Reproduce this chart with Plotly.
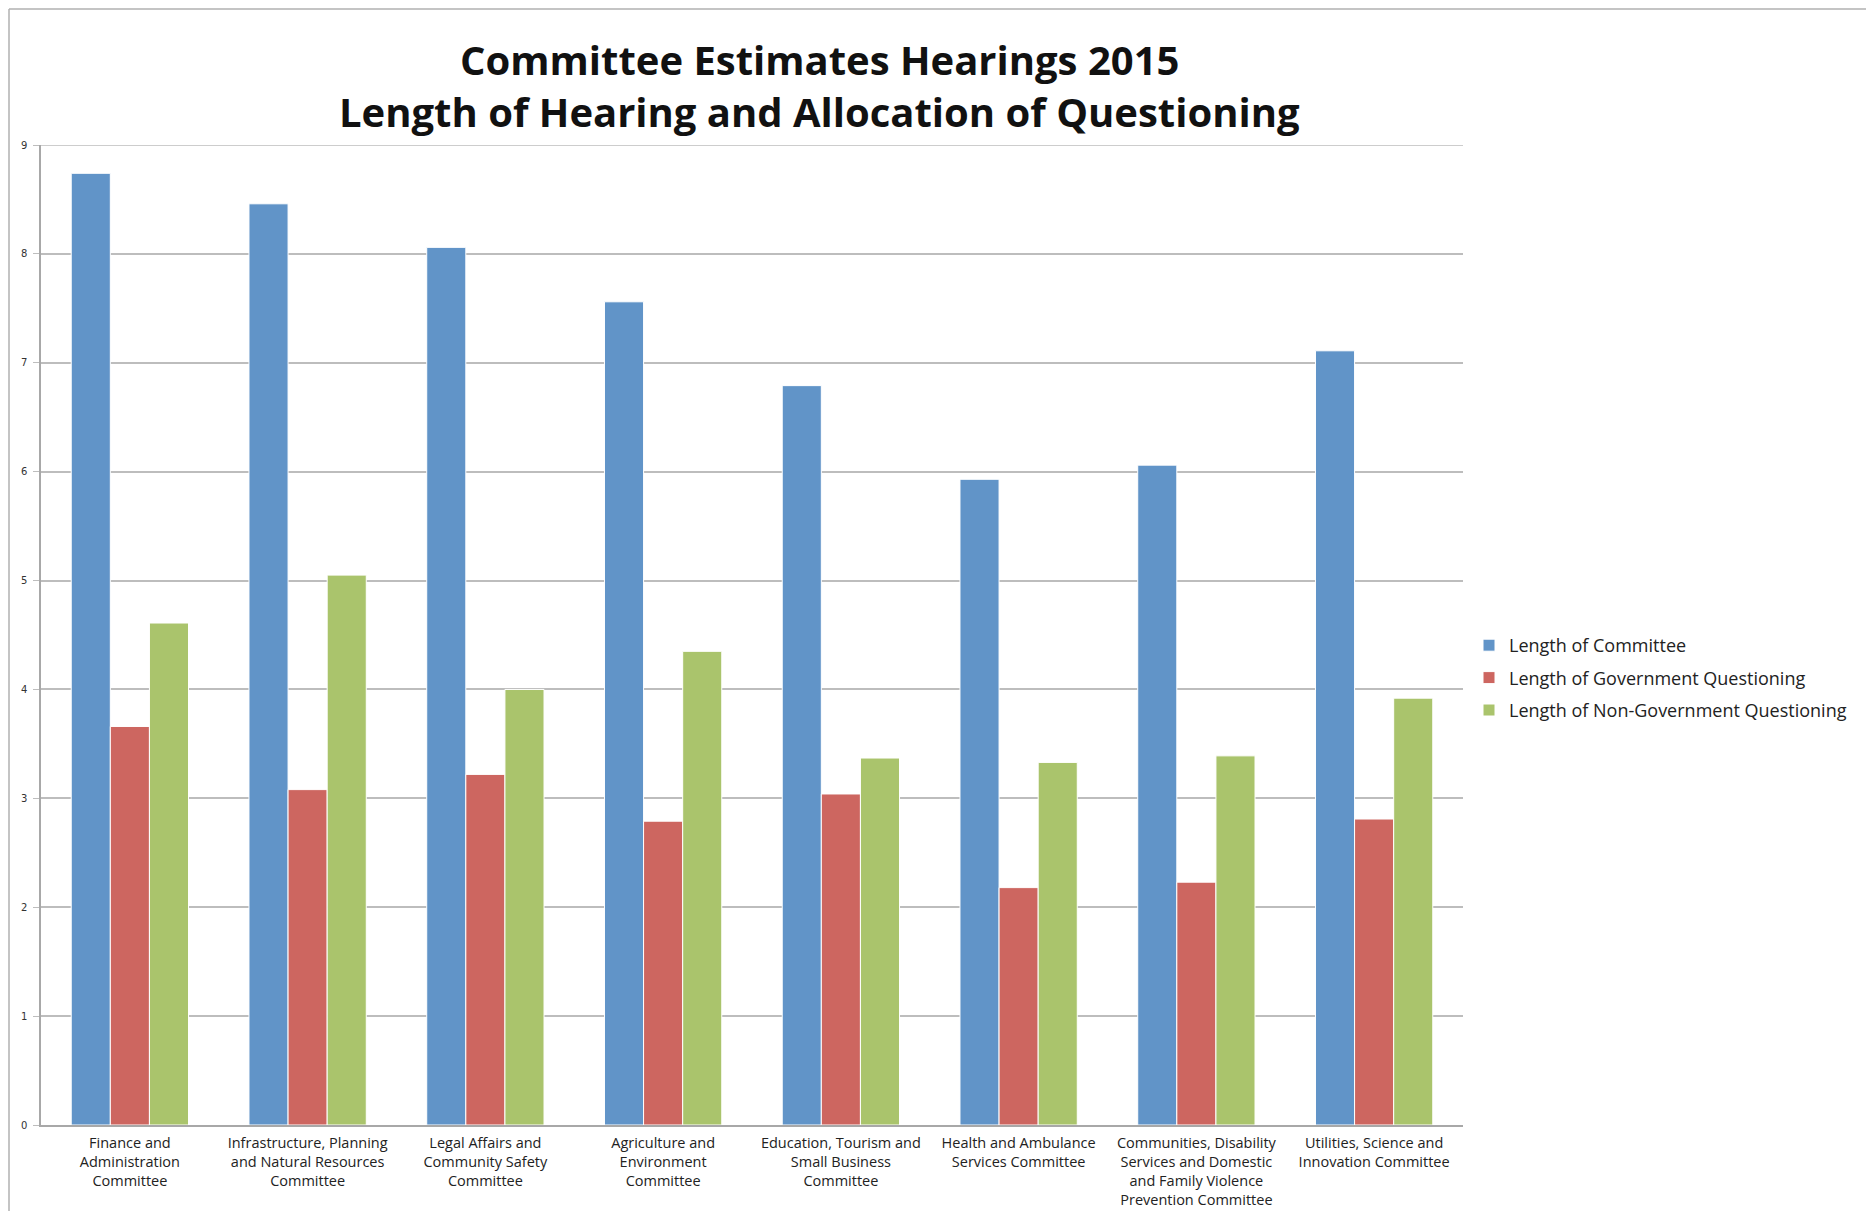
import plotly.graph_objects as go

categories = [
    "Finance and<br>Administration<br>Committee",
    "Infrastructure, Planning<br>and Natural Resources<br>Committee",
    "Legal Affairs and<br>Community Safety<br>Committee",
    "Agriculture and<br>Environment<br>Committee",
    "Education, Tourism and<br>Small Business<br>Committee",
    "Health and Ambulance<br>Services Committee",
    "Communities, Disability<br>Services and Domestic<br>and Family Violence<br>Prevention Committee",
    "Utilities, Science and<br>Innovation Committee",
]
length_committee = [8.74, 8.46, 8.06, 7.56, 6.79, 5.93, 6.06, 7.11]
length_gov = [3.66, 3.08, 3.22, 2.79, 3.04, 2.18, 2.23, 2.81]
length_nongov = [4.61, 5.05, 4.00, 4.35, 3.37, 3.33, 3.39, 3.92]
series_names = ["Length of Committee", "Length of Government Questioning",
                "Length of Non-Government Questioning"]
colors = ["#6194C8", "#CD6660", "#AAC46C"]
y_ticks = list(range(0, 10))

# page has an 8px body margin; the figure sits at (8, 8)
OFF = 8
W, H = 1874 - 2 * OFF, 1219 - 2 * OFF
# plot area in page pixels: x 41..1463, y 145..1125
ML = 41 - OFF
MT = 145 - OFF
MR = W - (1463 - OFF)
MB = H - (1125 - OFF)
pw = W - ML - MR
ph = H - MT - MB

fig = go.Figure()
for i, (name, vals) in enumerate(zip(series_names,
                                     [length_committee, length_gov, length_nongov])):
    fig.add_trace(go.Bar(
        x=categories, y=vals, name=name,
        marker=dict(color=colors[i], line=dict(color="white", width=1)),
        legendgroup=f"g{i}",
    ))

def px_x(p):
    return (p - OFF - ML) / pw

def px_y(p):
    return (H - MB - (p - OFF)) / ph

font_main = "Open Sans, Liberation Sans, sans-serif"

fig.update_layout(
    width=W, height=H,
    margin=dict(l=ML, r=MR, t=MT, b=MB, autoexpand=False),
    paper_bgcolor="white", plot_bgcolor="white",
    barmode="group", bargap=0.34, bargroupgap=0.0,
    font=dict(family=font_main, color="#222222"),
    showlegend=True,
    legend=dict(
        x=px_x(1469), y=px_y(678), xanchor="left", yanchor="middle",
        font=dict(size=18, family=font_main, color="#222222"),
        traceorder="grouped", tracegroupgap=6,
        bgcolor="rgba(0,0,0,0)",
    ),
    xaxis=dict(
        showline=True, linecolor="#A8A8A8", linewidth=1.5,
        showgrid=False, ticks="", automargin=False,
        tickfont=dict(size=14.5, family=font_main, color="#222222"),
        ticklabelstandoff=4,
    ),
    yaxis=dict(
        range=[0, 9], tickvals=y_ticks, automargin=False,
        showline=True, linecolor="#A8A8A8", linewidth=1.5,
        showgrid=True, gridcolor="#BDBDBD", gridwidth=1.5,
        ticks="outside", ticklen=6, tickcolor="#BDBDBD",
        tickfont=dict(size=10, family="DejaVu Sans", color="#333333"),
        ticklabelstandoff=4,
        zeroline=False,
    ),
    annotations=[
        dict(text="<b>Committee Estimates Hearings 2015</b>", xref="paper", yref="paper",
             x=px_x(819), y=px_y(60), xanchor="center", yanchor="middle",
             showarrow=False, font=dict(size=40, family=font_main, color="#111111")),
        dict(text="<b>Length of Hearing and Allocation of Questioning</b>", xref="paper",
             yref="paper", x=px_x(819), y=px_y(112), xanchor="center", yanchor="middle",
             showarrow=False, font=dict(size=40, family=font_main, color="#111111")),
    ],
    shapes=[
        dict(type="line", xref="paper", yref="y", x0=0, x1=1, y0=9, y1=9,
             line=dict(color="#BDBDBD", width=1.5), layer="below"),
        dict(type="line", xref="paper", yref="paper", x0=px_x(9), x1=px_x(9),
             y0=px_y(OFF + 1), y1=px_y(1219), line=dict(color="#B0B0B0", width=1.5)),
        dict(type="line", xref="paper", yref="paper", x0=px_x(9), x1=px_x(1874),
             y0=px_y(OFF + 1), y1=px_y(OFF + 1), line=dict(color="#B0B0B0", width=1.5)),
    ],
)

fig.write_html("out.html")
